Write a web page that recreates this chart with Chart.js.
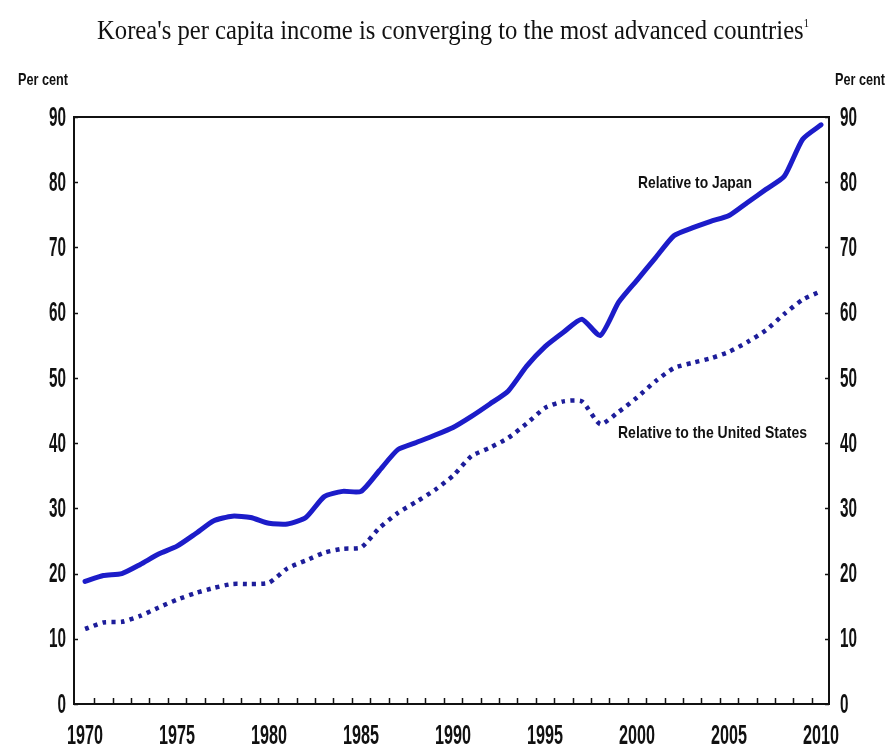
<!DOCTYPE html>
<html>
<head>
<meta charset="utf-8">
<script src="https://cdn.jsdelivr.net/npm/chart.js@4.4.1/dist/chart.umd.min.js"></script>
<style>
  html, body { margin:0; padding:0; background:#fff; }
  #wrap { position:relative; width:894px; height:749px; overflow:hidden; }
  #c { position:absolute; left:0; top:0; }
  .txt { position:absolute; white-space:nowrap; transform-origin:left top; color:#111; }
  .title { font-family:'Liberation Serif','Times New Roman',serif; font-size:28px; }
  .title sup { font-size:12px; vertical-align:top; position:relative; top:2px; }
  .unit { font-family:'Liberation Sans Narrow','Liberation Sans',Arial,sans-serif; font-weight:bold; font-size:17px; }
  .note { font-family:'Liberation Sans Narrow','Liberation Sans',Arial,sans-serif; font-weight:bold; font-size:17px; }
</style>
</head>
<body>
<div id="wrap">
  <canvas id="c" width="894" height="749"></canvas>
  <div class="txt title" id="title" data-x="97" data-y="14" data-w="712">Korea's per capita income is converging to the most advanced countries<sup>1</sup></div>
  <div class="txt unit" data-x="18" data-y="70" data-w="50">Per cent</div>
  <div class="txt unit" data-x="835" data-y="70" data-w="50">Per cent</div>
  <div class="txt note" data-x="638" data-y="173" data-w="114">Relative to Japan</div>
  <div class="txt note" data-x="618" data-y="423" data-w="189">Relative to the United States</div>
</div>
<script>
'use strict';

/* ── DATA ────────────────────────────────────────────────── */
const YEARS = [1970,1971,1972,1973,1974,1975,1976,1977,1978,1979,
               1980,1981,1982,1983,1984,1985,1986,1987,1988,1989,
               1990,1991,1992,1993,1994,1995,1996,1997,1998,1999,
               2000,2001,2002,2003,2004,2005,2006,2007,2008,2009,2010];

const JAPAN = [18.8,19.7,20.0,21.4,23.0,24.2,26.1,28.1,28.8,28.6,
               27.7,27.6,28.6,31.8,32.6,32.6,35.8,39.0,40.1,41.2,
               42.4,44.1,46.0,48.0,51.8,54.8,57.0,59.0,56.5,61.6,
               65.0,68.4,71.8,73.0,74.0,74.9,76.9,78.9,80.9,86.6,88.8];

const USA   = [11.5,12.5,12.6,13.5,14.8,16.0,17.0,17.8,18.4,18.4,
               18.6,20.8,22.0,23.2,23.8,24.0,27.0,29.3,31.0,32.8,
               35.0,38.0,39.3,40.8,43.0,45.4,46.4,46.4,42.9,44.8,
               47.0,49.5,51.5,52.3,53.0,54.0,55.5,57.3,59.8,62.0,63.3];

const X_LABELS = [1970,1975,1980,1985,1990,1995,2000,2005,2010];
const Y_TICKS  = [0,10,20,30,40,50,60,70,80,90];

/* ── HELPERS ─────────────────────────────────────────────── */
const pts = arr => YEARS.map((yr,i)=>({ x:yr, y:arr[i] }));
const TICK_FONT = "bold 28px 'Liberation Sans Narrow','Liberation Sans',Arial,sans-serif";

function fitTexts() {
  document.querySelectorAll('.txt').forEach(el=>{
    el.style.left = el.dataset.x + 'px';
    el.style.top  = el.dataset.y + 'px';
    const w = el.getBoundingClientRect().width;
    el.style.transform = `scaleX(${(+el.dataset.w / w).toFixed(4)})`;
  });
}

/* ── FRAME / TICKS PLUGIN ────────────────────────────────── */
const framePlugin = {
  id:'frame',
  afterDraw(chart) {
    const { ctx, chartArea:a, scales:{ x, y } } = chart;
    ctx.save();
    ctx.strokeStyle = '#111';
    ctx.lineWidth = 2;
    ctx.strokeRect(a.left, a.top, a.right - a.left, a.bottom - a.top);

    // inward tick marks between years on the bottom axis
    ctx.lineWidth = 1.5;
    ctx.beginPath();
    for (let i=0; i<YEARS.length-1; i++) {
      const px = Math.round(x.getPixelForValue(YEARS[i] + 0.5)) + 0.5;
      ctx.moveTo(px, a.bottom); ctx.lineTo(px, a.bottom - 6);
    }
    // short inward ticks on both value axes
    Y_TICKS.forEach(v=>{
      const py = Math.round(y.getPixelForValue(v)) + 0.5;
      ctx.moveTo(a.left, py);  ctx.lineTo(a.left + 4, py);
      ctx.moveTo(a.right, py); ctx.lineTo(a.right - 4, py);
    });
    ctx.stroke();

    // condensed tick labels
    ctx.fillStyle = '#111';
    ctx.font = TICK_FONT;
    ctx.textBaseline = 'middle';
    const sy = 17 / ctx.measureText('90').width;
    Y_TICKS.forEach(v=>{
      const py = y.getPixelForValue(v) + 1;
      const w = ctx.measureText(String(v)).width * sy;
      ctx.save(); ctx.translate(a.left - 8 - w, py); ctx.scale(sy, 1);
      ctx.fillText(String(v), 0, 0); ctx.restore();
      ctx.save(); ctx.translate(a.right + 11, py); ctx.scale(sy, 1);
      ctx.fillText(String(v), 0, 0); ctx.restore();
    });
    const sx = 36 / ctx.measureText('1970').width;
    X_LABELS.forEach(v=>{
      const px = x.getPixelForValue(v);
      const w = ctx.measureText(String(v)).width * sx;
      ctx.save(); ctx.translate(px - w/2, a.bottom + 32); ctx.scale(sx, 1);
      ctx.fillText(String(v), 0, 0); ctx.restore();
    });
    ctx.restore();
  }
};

/* ── CHART ───────────────────────────────────────────────── */
function initChart() {
  new Chart(document.getElementById('c'), {
    type:'line',
    data:{
      datasets:[
        { label:'Relative to Japan', data:pts(JAPAN),
          borderColor:'#1c1cc9', borderWidth:5, pointRadius:0, tension:.2,
          borderCapStyle:'round', borderJoinStyle:'round' },
        { label:'Relative to the United States', data:pts(USA),
          borderColor:'#1d1d9a', borderWidth:4.5, borderDash:[4,5.2], pointRadius:0, tension:.2 },
      ]
    },
    options:{
      responsive:false, animation:false,
      layout:{ padding:{ left:74, right:65, top:117, bottom:45 } },
      plugins:{ legend:{ display:false }, tooltip:{ enabled:false } },
      scales:{
        x:{ type:'linear', min:1969.4, max:2010.43, display:false },
        y:{ min:0, max:90, display:false }
      }
    },
    plugins:[framePlugin]
  });
}

document.addEventListener('DOMContentLoaded',()=>{
  fitTexts();
  initChart();
});
</script>
</body>
</html>
